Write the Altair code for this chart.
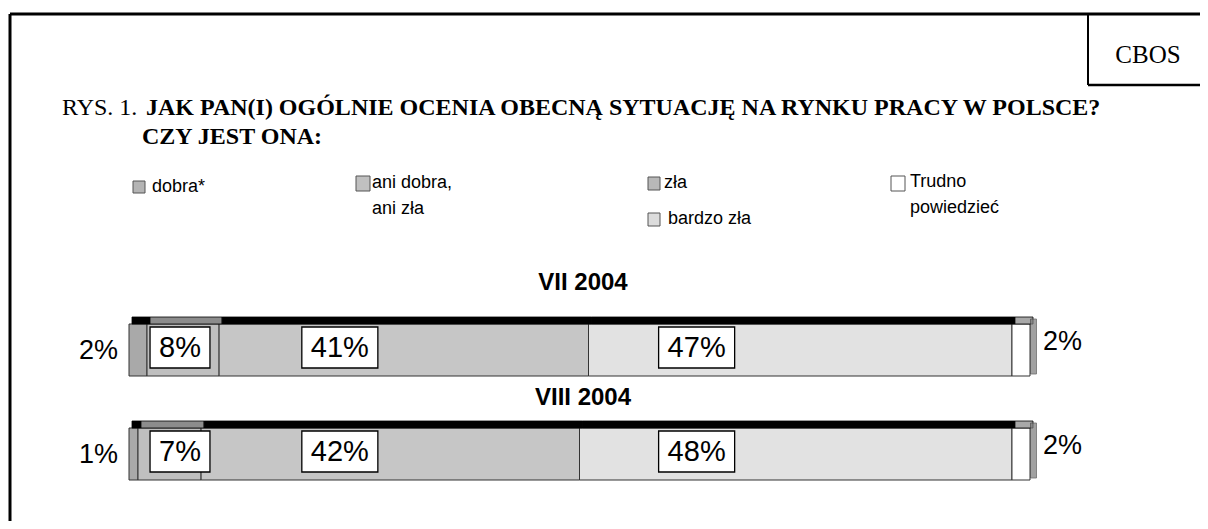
import altair as alt
import pandas as pd

# ---- data ----
periods = ["VII 2004", "VIII 2004"]
categories = ["dobra*", "ani dobra, ani zła", "zła", "bardzo zła", "Trudno powiedzieć"]
values_vii = [2, 8, 41, 47, 2]
values_viii = [1, 7, 42, 48, 2]

# ---- styling / layout (not data) ----
front_colors = ["#a9a9a9", "#bfbfbf", "#c6c6c6", "#e2e2e2", "#ffffff"]
top_colors = ["#000000", "#8c8c8c", "#000000", "#000000", "#a8a8a8"]
legend_colors = ["#b4b4b4", "#c0c0c0", "#b8b8b8", "#dcdcdc", "#ffffff"]
label_anchor = {categories[1]: 5.66, categories[2]: 23.4, categories[3]: 63.0}
PX_PER_PCT = 9.01
W, H = 1192, 513
XDOM = [-13.43, -13.43 + W / PX_PER_PCT]
LBL_FONT = 29
SANS = "Liberation Sans"
SERIF = "Liberation Serif"

rows = []
for p, vals in zip(periods, [values_vii, values_viii]):
    s = 0
    for c, v in zip(categories, vals):
        rows.append({"period": p, "category": c, "value": v, "start": s, "end": s + v,
                     "label": f"{v}%"})
        s += v
df = pd.DataFrame(rows)


def text_w(t):
    return sum(0.889 if ch == "%" else 0.556 for ch in t) * LBL_FONT


inside = df[df["category"].isin(label_anchor.keys())].copy()
inside["cx"] = inside["category"].map(label_anchor)
inside["bx"] = inside["cx"] - (inside["label"].map(text_w) + 18) / 2 / PX_PER_PCT
inside["bx2"] = inside["cx"] + (inside["label"].map(text_w) + 18) / 2 / PX_PER_PCT

xs = alt.Scale(domain=XDOM, range=[0, W], nice=False, zero=False)
ys = alt.Scale(type="point", domain=periods, range=[342, 446], padding=0)
X = lambda f: alt.X(f, type="quantitative", scale=xs, axis=None)
Y = alt.Y("period:N", scale=ys, axis=None)

base = alt.Chart(df)

front = base.mark_bar(size=52, stroke="#333333", strokeWidth=1).encode(
    x=X("start"), x2="end", y=Y,
    color=alt.Color("category:N", scale=alt.Scale(domain=categories, range=front_colors), legend=None),
)
top = base.mark_bar(size=7, yOffset=-29.5, xOffset=3, x2Offset=3, stroke="#000000", strokeWidth=0.8).encode(
    x=X("start"), x2="end", y=Y,
    color=alt.Color("category:N", scale=alt.Scale(domain=categories, range=top_colors), legend=None),
)
side = base.transform_filter(alt.datum.category == categories[-1]).mark_tick(
    thickness=6, size=55, color="#7a7a7a", xOffset=3.5, yOffset=-3.5, stroke="#333", strokeWidth=0.8
).encode(x=X("end"), y=Y)

boxes = alt.Chart(inside).mark_bar(size=41, yOffset=-2.5, fill="white", stroke="#000000", strokeWidth=1.3).encode(
    x=X("bx"), x2="bx2", y=Y
)
box_text = alt.Chart(inside).mark_text(font=SANS, fontSize=LBL_FONT, color="black", yOffset=-2,
                                       baseline="middle", align="center").encode(
    x=X("cx"), y=Y, text="label:N"
)
left_lbl = base.transform_filter(alt.datum.category == categories[0]).mark_text(
    font=SANS, fontSize=27, align="right", baseline="middle", dx=-11, dy=1
).encode(x=X("start"), y=Y, text="label:N")
right_lbl = base.transform_filter(alt.datum.category == categories[-1]).mark_text(
    font=SANS, fontSize=27, align="left", baseline="middle", dx=13, dy=-8
).encode(x=X("end"), y=Y, text="label:N")


def txt(t, x, y, size, font=SANS, weight="normal", align="left", baseline="middle"):
    return alt.Chart(alt.Data(values=[{"t": t}])).mark_text(
        font=font, fontSize=size, fontWeight=weight, align=align, baseline=baseline, color="black"
    ).encode(x=alt.value(x), y=alt.value(y), text="t:N")


def rule(x1, y1, x2, y2, w=2.5):
    return alt.Chart(alt.Data(values=[{}])).mark_rule(color="black", strokeWidth=w).encode(
        x=alt.value(x1), x2=alt.value(x2), y=alt.value(y1), y2=alt.value(y2))


def swatch(x, y, color, w=13, h=13):
    return alt.Chart(alt.Data(values=[{}])).mark_rect(fill=color, stroke="#555555", strokeWidth=1).encode(
        x=alt.value(x), x2=alt.value(x + w), y=alt.value(y), y2=alt.value(y + h))


# frame (plot coords = page - 8)
frame = [
    rule(2, 6, W, 6, 3),
    rule(2, 6, 2, H, 3),
    rule(1080, 6, 1080, 77, 2),
    rule(1080, 77, W, 77, 2.5),
]
texts = [
    txt("CBOS", 1140, 47, 25, SERIF, align="center"),
    txt("RYS. 1.", 54, 107, 24, SERIF, baseline="alphabetic"),
    txt("JAK PAN(I) OGÓLNIE OCENIA OBECNĄ SYTUACJĘ NA RYNKU PRACY W POLSCE?", 138, 107, 24, SERIF, "bold",
        baseline="alphabetic"),
    txt("CZY JEST ONA:", 134, 136, 24, SERIF, "bold", baseline="alphabetic"),
    txt(periods[0], 575, 275, 24, SANS, "bold", "center"),
    txt(periods[1], 575, 390, 24, SANS, "bold", "center"),
]
legend = [
    swatch(125, 173, legend_colors[0], 12, 12), txt("dobra*", 144, 179, 18),
    swatch(348, 168, legend_colors[1], 14, 15), txt("ani dobra,", 364, 175, 18), txt("ani zła", 364, 201, 18),
    swatch(640, 169, legend_colors[2], 12, 13), txt("zła", 656, 175, 18),
    swatch(640, 205, legend_colors[3], 12, 13), txt("bardzo zła", 660, 211, 18),
    swatch(883, 168, legend_colors[4], 14, 15), txt("Trudno", 902, 174, 18), txt("powiedzieć", 902, 200, 18),
]

chart = alt.layer(
    *frame, *texts, *legend,
    front, top, side, boxes, box_text, left_lbl, right_lbl
).resolve_scale(color="independent").properties(
    width=W, height=H, autosize=alt.AutoSizeParams(type="none"), padding=0
).configure_view(stroke=None)

chart.save("out.html", embed_options={"renderer": "svg", "actions": False})
